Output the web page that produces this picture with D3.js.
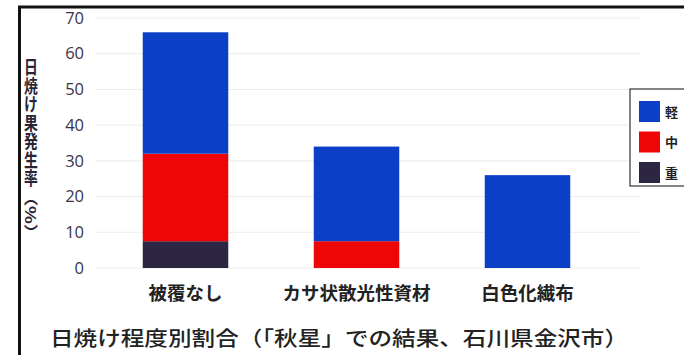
<!DOCTYPE html>
<html>
<head>
<meta charset="utf-8">
<script src="https://cdn.jsdelivr.net/npm/d3@7"></script>
<style>
  body { margin: 0; background: #fff; }
  svg { display: block; font-family: "Noto Sans CJK JP", "Noto Sans", sans-serif; }
</style>
</head>
<body>
<svg width="684" height="355"></svg>
<script>
// data
const categories = ["被覆なし", "カサ状散光性資材", "白色化繊布"];
const severe = [7.5, 0, 0];     // 重
const medium = [24.5, 7.5, 0];  // 中
const mild = [34, 26.5, 26];    // 軽
const seriesNames = ["軽", "中", "重"];
const yTicks = [0, 10, 20, 30, 40, 50, 60, 70];
const title = "日焼け程度別割合（「秋星」での結果、石川県金沢市）";
const yLabel = "日焼け果発生率（%）";

const colors = { "重": "#2c2642", "中": "#ee0505", "軽": "#0a3fc6" };

const svg = d3.select("svg");

// frame (left + top edge of the scanned box)
svg.append("line").attr("x1", 19.5).attr("x2", 19.5).attr("y1", 6).attr("y2", 355)
  .attr("stroke", "#111").attr("stroke-width", 3);
svg.append("line").attr("x1", 18).attr("x2", 684).attr("y1", 7).attr("y2", 7)
  .attr("stroke", "#111").attr("stroke-width", 3);

const y = d3.scaleLinear().domain([0, 70]).range([268, 18]);
const x = d3.scaleBand().domain(categories).range([100, 613])
  .paddingInner(0.5).paddingOuter(0.25);

// faint gridlines
svg.append("g").selectAll("line")
  .data(yTicks)
  .enter()
  .append("line")
  .attr("x1", 95).attr("x2", 640)
  .attr("y1", d => y(d)).attr("y2", d => y(d))
  .attr("stroke", "#ececec").attr("stroke-width", 1);

// y axis labels
const yAxis = svg.append("g")
  .attr("transform", "translate(84,0)")
  .call(d3.axisLeft(y).tickValues(yTicks).tickSize(0).tickPadding(0));
yAxis.select(".domain").remove();
yAxis.selectAll("text")
  .attr("font-size", 16.5)
  .attr("font-family", "'Open Sans', 'Noto Sans', sans-serif")
  .attr("fill", "#3a3548");

// y axis title, vertical, a little condensed
svg.append("g")
  .attr("transform", "translate(31,58) scale(0.75,1)")
  .append("text")
  .attr("x", 0).attr("y", 0)
  .attr("writing-mode", "vertical-rl")
  .attr("font-size", 18.5)
  .attr("font-weight", "bold")
  .attr("fill", "#2a2535")
  .text(yLabel);

// stacked bars
const rows = categories.map((c, i) => ({ cat: c, "重": severe[i], "中": medium[i], "軽": mild[i] }));
const stack = d3.stack().keys(["重", "中", "軽"])(rows);

svg.append("g").selectAll("g")
  .data(stack)
  .enter()
  .append("g")
  .attr("fill", d => colors[d.key])
  .selectAll("rect")
  .data(d => d)
  .enter()
  .append("rect")
  .attr("x", d => x(d.data.cat))
  .attr("width", x.bandwidth())
  .attr("y", d => y(d[1]))
  .attr("height", d => y(d[0]) - y(d[1]));

// x labels
svg.append("g").selectAll("text")
  .data(categories)
  .enter()
  .append("text")
  .attr("x", d => x(d) + x.bandwidth() / 2)
  .attr("y", 300)
  .attr("text-anchor", "middle")
  .attr("font-size", 18.5)
  .attr("font-weight", "bold")
  .attr("fill", "#222")
  .text(d => d);

// legend (box runs off the right edge)
const legend = svg.append("g");
legend.append("rect")
  .attr("x", 630).attr("y", 89).attr("width", 80).attr("height", 97)
  .attr("fill", "#fff").attr("stroke", "#333").attr("stroke-width", 1.2);
seriesNames.forEach((s, i) => {
  legend.append("rect")
    .attr("x", 639).attr("y", 101 + i * 30.5)
    .attr("width", 21).attr("height", 21)
    .attr("fill", colors[s]);
  legend.append("text")
    .attr("x", 665).attr("y", 116.5 + i * 30.5)
    .attr("font-size", 13).attr("font-weight", "bold").attr("fill", "#222")
    .text(s);
});

// title
svg.append("text")
  .attr("x", 50).attr("y", 346)
  .attr("font-size", 20.5)
  .attr("font-weight", 500)
  .attr("textLength", 578)
  .attr("lengthAdjust", "spacingAndGlyphs")
  .attr("fill", "#222")
  .text(title);
</script>
</body>
</html>
